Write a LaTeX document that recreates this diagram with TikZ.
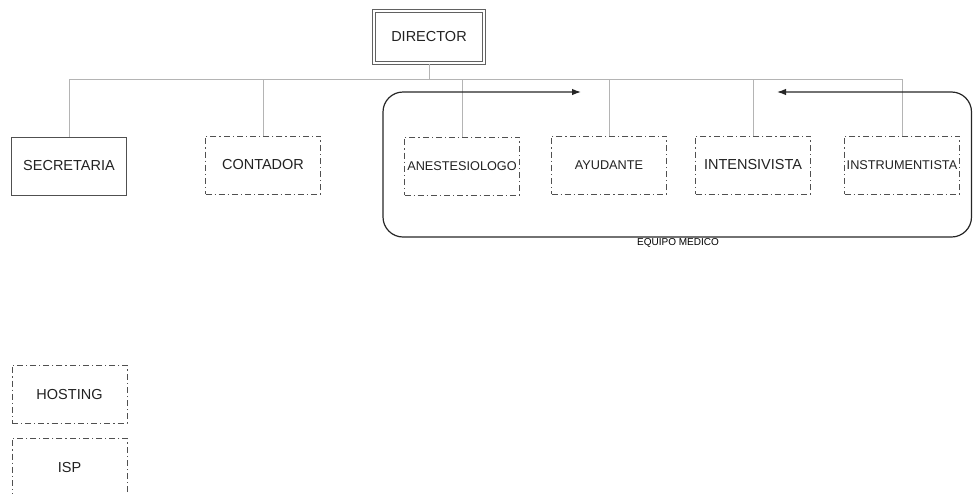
\documentclass[tikz,border=0pt]{standalone}
\usepackage{fontspec}
\setmainfont{Liberation Sans}
\usetikzlibrary{arrows.meta}
\definecolor{boxline}{HTML}{505050}
\definecolor{conn}{HTML}{B4B4B4}
\definecolor{txt}{HTML}{222222}
\begin{document}
\begin{tikzpicture}[x=1pt,y=-1pt,
  box/.style={draw=boxline, line width=1pt, inner sep=0pt, text=txt,
    minimum width=115pt, minimum height=58pt, font=\fontsize{14.5}{16}\selectfont},
  dbox/.style={box, dash pattern=on 6pt off 3pt on 1.2pt off 3pt},
  smallt/.style={font=\fontsize{12.7}{14}\selectfont},
  conn/.style={draw=conn, line width=0.7pt},
  frame/.style={draw=black!85, line width=1.2pt, rounded corners=20pt,
    {Latex[length=9pt,width=6.5pt]}-{Latex[length=9pt,width=6.5pt]}}]
\useasboundingbox (0,0) rectangle (973,493);
% boxes
\node[box, draw=boxline!90, double=white, double distance=1.3pt, line width=1.2pt,
  minimum width=110pt, minimum height=52pt] (dir) at (429,37) {DIRECTOR};
\node[box] (sec) at (69,166) {SECRETARIA};
\node[dbox] (con) at (263,165) {CONTADOR};
\node[dbox, smallt] (ane) at (462,166) {ANESTESIOLOGO};
\node[dbox, smallt] (ayu) at (609,165) {AYUDANTE};
\node[dbox] (int) at (753,165) {INTENSIVISTA};
\node[dbox, smallt] (ins) at (902,165) {INSTRUMENTISTA};
\node[dbox] (hos) at (69.5,394) {HOSTING};
\node[dbox] (isp) at (69.5,467) {ISP};
% connectors
\coordinate (bus) at (429,79);
\draw[conn] (dir.south) -- (bus);
\foreach \n in {sec,con,ane,ayu,int,ins}{
  \draw[conn] (\n.north) |- (bus);
}
% equipo medico frame
\coordinate (fa) at (581,92);
\coordinate (fb) at (383,92);
\coordinate (fc) at (383,237);
\coordinate (fd) at (971.5,237);
\coordinate (fe) at (971.5,92);
\coordinate (ff) at (777,92);
\draw[frame] (fa) -- (fb) -- (fc) -- (fd) -- (fe) -- (ff);
\node[text=black, font=\fontsize{10}{11}\selectfont] (eq) at (678,243) {EQUIPO MEDICO};
\end{tikzpicture}
\end{document}
